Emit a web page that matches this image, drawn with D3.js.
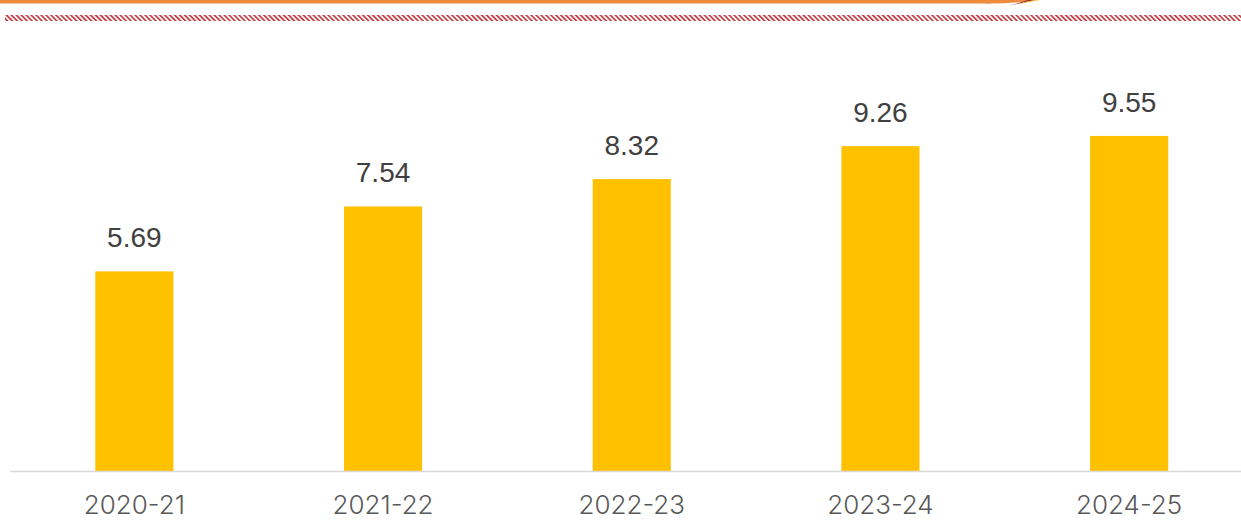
<!DOCTYPE html>
<html>
<head>
<meta charset="utf-8">
<script src="https://cdn.jsdelivr.net/npm/d3@7"></script>
<style>
  body { margin: 0; background: #fff; }
  svg { display: block; }
</style>
</head>
<body>
<svg id="chart"></svg>
<script>
// chart data
var years = ["2020-21", "2021-22", "2022-23", "2023-24", "2024-25"];
var values = [5.69, 7.54, 8.32, 9.26, 9.55];

var W = 1241, H = 520;
var svg = d3.select("#chart").attr("width", W).attr("height", H);

// header decoration
var defs = svg.append("defs");
var pat = defs.append("pattern")
  .attr("id", "hatch")
  .attr("width", 3.5).attr("height", 3.5)
  .attr("patternUnits", "userSpaceOnUse")
  .attr("patternTransform", "rotate(-45)");
pat.append("rect").attr("width", 1.8).attr("height", 3.5).attr("fill", "#c4424a");

svg.append("rect").attr("x", 0).attr("y", 0).attr("width", 990).attr("height", 3.5).attr("fill", "#f08a3c");
svg.append("path").attr("d", "M985,0 L1035,0 Q1010,4 985,3.5 Z").attr("fill", "#f08a3c");
svg.append("path").attr("d", "M1000,8 Q1020,3 1036,0 L1028,0 Q1016,4 1000,8 Z").attr("fill", "#9b2a3a");
svg.append("path").attr("d", "M1018,4 Q1028,1 1034,0 L1040,0 Q1030,2 1018,4 Z").attr("fill", "#f5c230");
svg.append("rect").attr("x", 5).attr("y", 15).attr("width", W - 5).attr("height", 6).attr("fill", "url(#hatch)");

// scales
var x = d3.scaleBand().domain(years).range([10, 1253.5]).paddingInner(0.686).paddingOuter(0.343);
var y = d3.scaleLinear().domain([0, 12]).range([471, 50]);

// bars
svg.selectAll(".bar").data(values).enter().append("rect")
  .attr("class", "bar")
  .attr("x", function(d, i) { return x(years[i]); })
  .attr("y", function(d) { return y(d); })
  .attr("width", x.bandwidth())
  .attr("height", function(d) { return y(0) - y(d); })
  .attr("fill", "#ffc000");

// value labels
svg.selectAll(".val").data(values).enter().append("text")
  .attr("class", "val")
  .attr("x", function(d, i) { return x(years[i]) + x.bandwidth() / 2; })
  .attr("y", function(d) { return y(d) - 24; })
  .attr("text-anchor", "middle")
  .attr("font-family", "Liberation Sans, Arial, sans-serif")
  .attr("font-size", 28)
  .attr("fill", "#404040")
  .text(function(d) { return d.toFixed(2); });

// axis line
svg.append("line").attr("x1", 10).attr("x2", W).attr("y1", 471.5).attr("y2", 471.5)
  .attr("stroke", "#d9d9d9").attr("stroke-width", 1.5);

// category labels
svg.selectAll(".cat").data(years).enter().append("text")
  .attr("class", "cat")
  .attr("x", function(d) { return x(d) + x.bandwidth() / 2; })
  .attr("y", 514)
  .attr("text-anchor", "middle")
  .attr("font-family", "Inter, Roboto, sans-serif")
  .attr("font-weight", 300)
  .attr("font-size", 26)
  .attr("fill", "#595959")
  .text(function(d) { return d; });
</script>
</body>
</html>
